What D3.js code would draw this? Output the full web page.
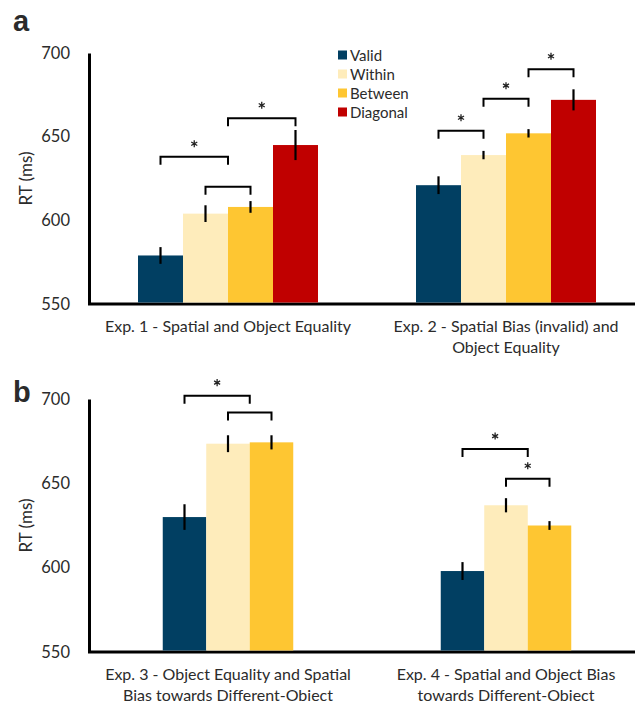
<!DOCTYPE html>
<html>
<head>
<meta charset="utf-8">
<script src="https://cdn.jsdelivr.net/npm/d3@7"></script>
<style>
  body { margin: 0; background: #fff; }
  text { font-family: Lato, "Open Sans", sans-serif; fill: #2b2b2b; }
</style>
</head>
<body>
<svg id="chart" width="635" height="701"></svg>
<script>
// panel a: exps 1 and 2, four conditions
var seriesA = ['Valid', 'Within', 'Between', 'Diagonal'];
var groupsA = [
  ['Exp. 1 - Spatial and Object Equality'],
  ['Exp. 2 - Spatial Bias (invalid) and', 'Object Equality']
];
var meansA = [[579, 604, 608, 645], [621, 639, 652, 672]];
var errA = [[5, 5, 3.5, 9], [5.3, 2.5, 2.5, 6.3]];
// [group, from bar, to bar, level (ms), significant]
var bracketsA = [
  [0, 0, 1.5, 638, true], [0, 1.5, 3, 661, true], [0, 1, 2, 620, false],
  [1, 0, 1, 653.5, true], [1, 1, 2, 672.7, true], [1, 2, 3, 690.3, true]
];

// panel b: exps 3 and 4, three conditions
var seriesB = ['Valid', 'Within', 'Between'];
var groupsB = [
  ['Exp. 3 - Object Equality and Spatial', 'Bias towards Different-Object'],
  ['Exp. 4 - Spatial and Object Bias', 'towards Different-Object']
];
var meansB = [[630, 673.5, 674.3], [598, 637, 625]];
var errB = [[7.6, 5, 4.2], [5.3, 4.2, 2.6]];
var bracketsB = [
  [0, 0, 1.5, 702, true], [0, 1, 2, 692, false],
  [1, 0, 1.5, 670.3, true], [1, 1, 2, 652.7, true]
];

var yTicks = [550, 600, 650, 700];

var colors = {
  Valid: '#013f62',
  Within: '#feecbb',
  Between: '#fec632',
  Diagonal: '#c00000'
};

var svg = d3.select('#chart');
var star = d3.symbol().type(d3.symbolAsterisk).size(34);

function panel(opts) {
  var g = svg.append('g');
  var y = d3.scaleLinear().domain([550, 700]).range([opts.bottom, opts.top]);
  var x0 = d3.scaleBand().domain([0, 1]).range([89, 645]);
  var x1 = d3.scaleBand().domain(opts.series)
    .range([-opts.barW * opts.series.length / 2, opts.barW * opts.series.length / 2]);

  // axes
  var yAxis = g.append('g')
    .attr('transform', 'translate(89,0)')
    .call(d3.axisLeft(y).tickValues(yTicks).tickSize(0).tickSizeOuter(0).tickPadding(19));
  yAxis.select('.domain').attr('stroke', '#000').attr('stroke-width', 3);
  yAxis.selectAll('text').attr('font-size', 16.5).style('font-family', 'Lato, sans-serif').attr('fill', '#2b2b2b');

  g.append('line')
    .attr('x1', 88).attr('x2', 640)
    .attr('y1', opts.bottom).attr('y2', opts.bottom)
    .attr('stroke', '#000').attr('stroke-width', 3);

  g.append('text')
    .attr('transform', 'translate(32,' + (opts.top + opts.bottom) / 2 + ') rotate(-90)')
    .attr('text-anchor', 'middle')
    .attr('font-size', 17)
    .text('RT (ms)');

  g.append('text')
    .attr('x', 13).attr('y', opts.letterY)
    .attr('font-size', 29).attr('font-weight', 'bold')
    .style('font-family', 'Arial, "Liberation Sans", sans-serif')
    .attr('fill', '#000')
    .text(opts.letter);

  // bars
  opts.means.forEach(function(vals, gi) {
    var cx = x0(gi) + x0.bandwidth() / 2;
    var gg = g.append('g').attr('transform', 'translate(' + cx + ',0)');
    var rows = opts.series.map(function(s, i) {
      return { s: s, v: vals[i], e: opts.err[gi][i] };
    });
    gg.selectAll('rect').data(rows).enter().append('rect')
      .attr('x', function(d) { return x1(d.s); })
      .attr('width', x1.bandwidth())
      .attr('y', function(d) { return y(d.v); })
      .attr('height', function(d) { return opts.bottom - 1.5 - y(d.v); })
      .attr('fill', function(d) { return colors[d.s]; });
    gg.selectAll('line.err').data(rows).enter().append('line')
      .attr('class', 'err')
      .attr('x1', function(d) { return x1(d.s) + x1.bandwidth() / 2; })
      .attr('x2', function(d) { return x1(d.s) + x1.bandwidth() / 2; })
      .attr('y1', function(d) { return y(d.v - d.e); })
      .attr('y2', function(d) { return y(d.v + d.e); })
      .attr('stroke', '#000').attr('stroke-width', 2.2);

    g.append('text')
      .attr('x', cx).attr('y', opts.bottom + 27.5)
      .attr('text-anchor', 'middle')
      .attr('font-size', 16)
      .selectAll('tspan').data(opts.groups[gi]).enter().append('tspan')
      .attr('x', cx)
      .attr('dy', function(d, i) { return i ? 21.5 : 0; })
      .text(function(d) { return d; });
  });

  // significance brackets
  function barCenter(gi, pos) {
    var cx = x0(gi) + x0.bandwidth() / 2;
    return cx + x1.range()[0] + x1.bandwidth() * (pos + 0.5);
  }
  opts.brackets.forEach(function(b) {
    var xa = barCenter(b[0], b[1]);
    var xb = barCenter(b[0], b[2]);
    var yt = y(b[3]);
    g.append('path')
      .attr('d', 'M' + xa + ',' + (yt + 8) + 'V' + yt + 'H' + xb + 'V' + (yt + 8))
      .attr('fill', 'none').attr('stroke', '#000').attr('stroke-width', 2);
    if (b[4]) {
      g.append('path')
        .attr('transform', 'translate(' + (xa + xb) / 2 + ',' + (yt - 13) + ')')
        .attr('d', star)
        .attr('fill', 'none').attr('stroke', '#222').attr('stroke-width', 1.3);
    }
  });

  return { y: y };
}

panel({
  letter: 'a', letterY: 31,
  top: 53, bottom: 304, barW: 45,
  series: seriesA, groups: groupsA, means: meansA, err: errA, brackets: bracketsA
});

panel({
  letter: 'b', letterY: 402,
  top: 399, bottom: 652, barW: 43.5,
  series: seriesB, groups: groupsB, means: meansB, err: errB, brackets: bracketsB
});

// legend
var legend = svg.append('g').attr('transform', 'translate(338,55)');
var li = legend.selectAll('g').data(seriesA).enter().append('g')
  .attr('transform', function(d, i) { return 'translate(0,' + i * 19 + ')'; });
li.append('rect')
  .attr('x', 0).attr('y', -4.5).attr('width', 9).attr('height', 9)
  .attr('fill', function(d) { return colors[d]; });
li.append('text')
  .attr('x', 12).attr('y', 5.5)
  .attr('font-size', 15)
  .text(function(d) { return d; });
</script>
</body>
</html>
